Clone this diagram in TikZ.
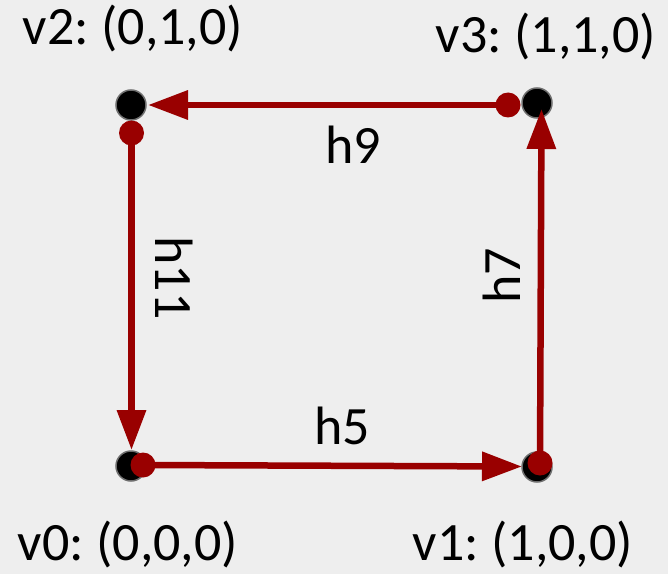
\documentclass[tikz,border=0pt]{standalone}
\usepackage{fontspec}
\setmainfont{Carlito}
\usetikzlibrary{arrows.meta}
\definecolor{bg}{RGB}{238,238,238}
\definecolor{hered}{RGB}{153,0,0}
\definecolor{vgray}{RGB}{110,110,110}
\frenchspacing
\begin{document}
\begin{tikzpicture}[x=1pt,y=1pt,
  vtx/.style={circle,fill=black,draw=vgray,line width=1.5pt,minimum size=30pt,inner sep=0pt},
  hdot/.style={circle,fill=hered,minimum size=25pt,inner sep=0pt},
  hedge/.style={draw=hered,line width=6.5pt,-{Triangle[length=40pt,width=28pt]}},
  lbl/.style={font=\fontsize{54}{60}\selectfont,inner sep=0pt,anchor=base},
  hlbl/.style={font=\fontsize{54}{60}\selectfont,inner sep=0pt}]
\fill[bg] (0,0) rectangle (668,574);
\useasboundingbox (0,0) rectangle (668,574);
% vertices
\node[vtx] (v0) at (131,108) {};
\node[vtx] (v1) at (537,107) {};
\node[vtx] (v2) at (131,469) {};
\node[vtx] (v3) at (537,471) {};
% half-edge start dots
\node[hdot] (d5) at (143,109) {};
\node[hdot] (d7) at (540,111) {};
\node[hdot] (d9) at (508,469) {};
\node[hdot] (d11) at (131.5,441) {};
% arrow tip ends
\coordinate (t5) at (522,107.5);
\coordinate (t7) at (541.5,465);
\coordinate (t9) at (148,469);
\coordinate (t11) at (131.5,124);
% half-edges
\draw[hedge] (d5.center) -- (t5);
\draw[hedge] (d7.center) -- (t7);
\draw[hedge] (d9.center) -- (t9);
\draw[hedge] (d11.center) -- (t11);
% labels
\node[lbl] (l2) at (133,529) {v2: (0,1,0)};
\node[lbl] (l3) at (546,521) {v3: (1,1,0)};
\node[lbl] (l0) at (128,14) {v0: (0,0,0)};
\node[lbl] (l1) at (523,14) {v1: (1,0,0)};
\node[lbl] (l9) at (353,411) {h9};
\node[lbl] (l5) at (342,130) {h5};
\node[hlbl,rotate=-90] (l11) at (174,296) {h11};
\node[hlbl,rotate=90] (l7) at (502,298) {h7};
\end{tikzpicture}
\end{document}
